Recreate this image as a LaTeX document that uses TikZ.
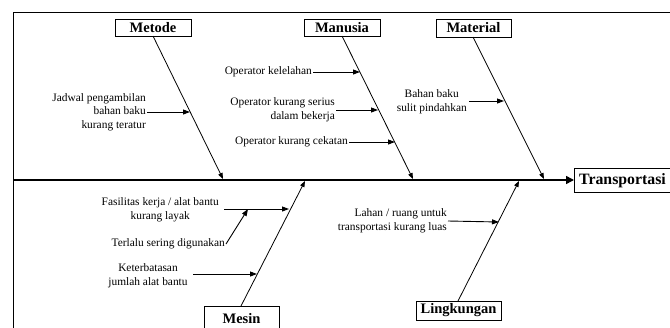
\documentclass[tikz,border=0pt]{standalone}
\usepackage{fontspec}
\setmainfont{Liberation Serif}
\usetikzlibrary{arrows.meta}
\begin{document}
\begin{tikzpicture}[x=1pt,y=-1pt,
  catbox/.style={draw,line width=0.9pt,font=\fontsize{14.5}{16}\selectfont\bfseries,inner sep=0pt},
  cause/.style={font=\fontsize{11.4}{13.6}\selectfont,inner sep=1pt},
  bone/.style={line width=0.8pt,-{Triangle[length=6pt,width=4.5pt]}},
  sub/.style={line width=0.9pt,-{Triangle[length=7pt,width=5pt]}}]
\useasboundingbox (0,0) rectangle (670,327);

% frame
\draw[line width=1pt] (13,340) -- (13,12) -- (690,12);

% effect box and spine
\draw[line width=0.9pt] (574,168) rectangle (690,192);
\node[anchor=west,inner sep=0pt,font=\fontsize{15.8}{17}\selectfont\bfseries] (effect) at (579,180.5) {Transportasi};
\coordinate (spinestart) at (13,180);
\coordinate (spineend) at (574,180);
\draw[line width=1.6pt,-{Triangle[length=8pt,width=8pt]}] (spinestart) -- (spineend);

% category boxes
\node[catbox,minimum width=76pt,minimum height=17pt] (metode) at (153,27.5) {Metode};
\node[catbox,minimum width=76pt,minimum height=17pt] (manusia) at (342,27.5) {Manusia};
\node[catbox,minimum width=75pt,minimum height=18pt] (material) at (473.5,28) {Material};
\node[catbox,minimum width=75pt,minimum height=24pt,anchor=north] (mesin) at (241.5,306) {Mesin};
\node[catbox,minimum width=85pt,minimum height=19pt] (lingkungan) at (458.5,310.5) {Lingkungan};

% bones
\coordinate (metodeEnd) at (223,179);
\coordinate (manusiaEnd) at (413,179);
\coordinate (materialEnd) at (544,179);
\coordinate (mesinEnd) at (305,181);
\coordinate (lingkunganEnd) at (519,181);
\draw[bone] (153,36) -- (metodeEnd);
\draw[bone] (342,36) -- (manusiaEnd);
\draw[bone] (473,37) -- (materialEnd);
\draw[bone] (241,306) -- (mesinEnd);
\draw[bone] (458,301) -- (lingkunganEnd);

% causes: Metode
\node[cause,align=right,anchor=east] (jadwal) at (147,112) {Jadwal pengambilan\\bahan baku\\kurang teratur};
\coordinate (jadwalTip) at (190,112);
\draw[sub] (jadwal.east) -- (jadwalTip);

% causes: Manusia
\node[cause,anchor=east] (lelah) at (313,72) {Operator kelelahan};
\coordinate (lelahTip) at (360,72);
\draw[sub] (lelah.east) -- (lelahTip);
\node[cause,align=right,anchor=east] (serius) at (336,110) {Operator kurang serius\\dalam bekerja};
\coordinate (seriusTip) at (378,110);
\draw[sub] (serius.east) -- (seriusTip);
\node[cause,anchor=east] (cekatan) at (349,142) {Operator kurang cekatan};
\coordinate (cekatanTip) at (395,142);
\draw[sub] (cekatan.east) -- (cekatanTip);

% causes: Material
\node[cause,align=center,anchor=east] (bahan) at (468,102) {Bahan baku\\sulit pindahkan};
\coordinate (bahanStart) at (469,101);
\coordinate (bahanTip) at (504,101);
\draw[sub] (bahanStart) -- (bahanTip);

% causes: Mesin
\node[cause,align=center,anchor=east] (fasilitas) at (220,210) {Fasilitas kerja / alat bantu\\kurang layak};
\coordinate (fasStart) at (224,209);
\coordinate (fasJoin) at (248,209);
\coordinate (fasTip) at (289,209);
\draw[sub] (fasStart) -- (fasTip);
\node[cause,anchor=east] (terlalu) at (226,244) {Terlalu sering digunakan};
\draw[sub] (terlalu.east) -- (fasJoin);
\node[cause,align=center] (batas) at (148,275.5) {Keterbatasan\\jumlah alat bantu};
\coordinate (batasStart) at (193,274);
\coordinate (batasTip) at (257,274);
\draw[sub] (batasStart) -- (batasTip);

% causes: Lingkungan
\node[cause,align=right,anchor=east] (lahan) at (448,221) {Lahan / ruang untuk\\transportasi kurang luas};
\coordinate (lahanTip) at (499,222);
\draw[sub] (lahan.east) -- (lahanTip);
\end{tikzpicture}
\end{document}
